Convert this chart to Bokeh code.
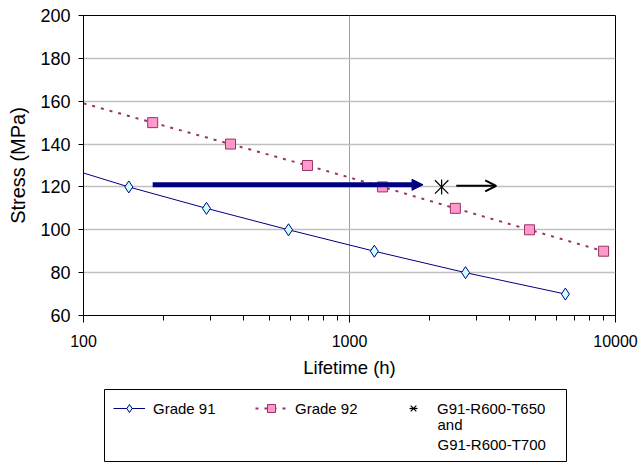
import math
from bokeh.plotting import figure
from bokeh.layouts import column
from bokeh.models import (Arrow, NormalHead, OpenHead, Legend, LegendItem, FixedTicker,
                          NumeralTickFormatter, Range1d, Label)
from bokeh.embed import file_html
from bokeh.resources import INLINE

# ---- data ----
g91_life = [148, 290, 590, 1240, 2730, 6480]
g91_stress = [120, 110, 100, 90, 80, 70]
g91_line_start = [100, 126.5]

g92_life = [182, 357, 695, 1330, 2500, 4750, 9020]
g92_stress = [150, 140, 130, 120, 110, 100, 90]
g92_line_start = [100, 159]

test_life = [2220]
test_stress = [120]

navy_arrow = dict(x0=182, y0=121, x1=1890, y1=121)
black_arrow = dict(x0=2520, y0=120.5, x1=3560, y1=120.5)

x_ticks = [100, 1000, 10000]
x_minor = [200, 300, 400, 500, 600, 700, 800, 900,
           2000, 3000, 4000, 5000, 6000, 7000, 8000, 9000]
y_ticks = [60, 80, 100, 120, 140, 160, 180, 200]

legend_labels = ["Grade 91", "Grade 92", "G91-R600-T650"]
legend_extra = "and\nG91-R600-T700"

FONT = "Liberation Sans"
NAVY = "#000080"
PLUM = "#993366"

p = figure(width=641, height=380, x_axis_type="log",
           x_range=Range1d(100, 10000), y_range=Range1d(60, 200),
           output_backend="svg", toolbar_location=None,
           min_border_left=83, min_border_right=26, min_border_top=15,
           min_border_bottom=65)
p.background_fill_color = "white"
p.border_fill_color = "white"
p.outline_line_color = "black"
p.outline_line_width = 1

# axes
p.xaxis.ticker = FixedTicker(ticks=x_ticks, minor_ticks=x_minor)
p.xaxis.formatter = NumeralTickFormatter(format="0")
p.yaxis.ticker = FixedTicker(ticks=y_ticks)
for ax in (p.xaxis, p.yaxis):
    ax.axis_line_color = "black"
    ax.major_tick_line_color = "black"
    ax.minor_tick_line_color = "black"
    ax.major_label_text_font = FONT
    ax.major_label_text_color = "black"
    ax.axis_label_text_font = FONT
    ax.axis_label_text_font_style = "normal"
    ax.axis_label_text_color = "black"
    ax.major_tick_in = 0
    ax.minor_tick_in = 0
p.xaxis.major_label_text_font_size = "16px"
p.yaxis.major_label_text_font_size = "18px"
p.xaxis.axis_label_text_font_size = "18.5px"
p.yaxis.axis_label_text_font_size = "20px"
p.xaxis.major_tick_out = 7
p.xaxis.minor_tick_out = 5
p.yaxis.major_tick_out = 5
p.yaxis.minor_tick_line_color = None
p.xaxis.axis_label = "Lifetime (h)"
p.yaxis.axis_label = "Stress (MPa)"
p.xaxis.major_label_standoff = 12
p.xaxis.axis_label_standoff = 7
p.yaxis.major_label_standoff = 8
p.yaxis.axis_label_standoff = 8

p.xgrid.grid_line_color = "#a0a0a0"
p.ygrid.grid_line_color = "#c0c0c0"
p.ygrid.grid_line_width = 1.5
p.xgrid.minor_grid_line_color = None

# series styles
G91_LINE = dict(line_color=NAVY, line_width=1)
G91_MARK = dict(marker="diamond", size=12, fill_color="#ccffff", line_color=NAVY, line_width=1)
G92_LINE = dict(line_color=PLUM, line_width=2, line_dash="3 6")
G92_MARK = dict(marker="square", size=10, fill_color="#ff99cc", line_color=PLUM, line_width=1)
STAR_X = dict(marker="x", size=19, line_color="black", line_width=1.2)
STAR_V = dict(marker="dash", size=15, angle=math.pi / 2, line_color="black", line_width=1.2)

g91_x = [g91_line_start[0]] + g91_life
g91_y = [g91_line_start[1]] + g91_stress
g92_x = [g92_line_start[0]] + g92_life
g92_y = [g92_line_start[1]] + g92_stress

p.line(g91_x, g91_y, **G91_LINE)
p.scatter(g91_life, g91_stress, **G91_MARK)
p.line(g92_x, g92_y, **G92_LINE)
p.scatter(g92_life, g92_stress, **G92_MARK)

p.add_layout(Arrow(end=NormalHead(size=11, fill_color=NAVY, line_color=NAVY),
                   x_start=navy_arrow["x0"], y_start=navy_arrow["y0"],
                   x_end=navy_arrow["x1"], y_end=navy_arrow["y1"],
                   line_color=NAVY, line_width=5))
p.add_layout(Arrow(end=OpenHead(size=11, line_color="black", line_width=2),
                   x_start=black_arrow["x0"], y_start=black_arrow["y0"],
                   x_end=black_arrow["x1"], y_end=black_arrow["y1"],
                   line_color="black", line_width=2))
p.scatter(test_life, test_stress, **STAR_X)
p.scatter(test_life, test_stress, **STAR_V)

# ---- legend box (separate strip below the chart) ----
lp = figure(width=641, height=82, x_axis_type=None, y_axis_type=None,
            x_range=Range1d(0, 1), y_range=Range1d(0, 1),
            output_backend="svg", toolbar_location=None,
            min_border_left=104, min_border_right=75, min_border_top=9,
            min_border_bottom=0)
lp.outline_line_color = "black"
lp.outline_line_width = 1
lp.background_fill_color = "white"
lp.border_fill_color = "white"
lp.grid.visible = False

for f in (p, lp):
    try:
        f.frame_align = False
    except Exception:
        pass

# legend glyph renderers: same series, lying outside this strip's ranges (not visible)
lg1 = lp.line(g91_x, g91_y, **G91_LINE)
lm1 = lp.scatter(g91_life, g91_stress, **G91_MARK)
lg2 = lp.line(g92_x, g92_y, **G92_LINE)
lm2 = lp.scatter(g92_life, g92_stress, **G92_MARK)
lm3 = lp.scatter(test_life, test_stress, **STAR_X)
lm4 = lp.scatter(test_life, test_stress, **STAR_V)

legend = Legend(items=[
    LegendItem(label=legend_labels[0], renderers=[lg1, lm1]),
    LegendItem(label=legend_labels[1], renderers=[lg2, lm2]),
    LegendItem(label=legend_labels[2], renderers=[lm3, lm4]),
], orientation="horizontal", location=(9, 44),
    glyph_width=32, glyph_height=20, label_standoff=8, spacing=0, label_width=102,
    padding=0, border_line_color=None, background_fill_alpha=0,
    label_text_font=FONT, label_text_font_size="15px", label_text_color="black")
lp.add_layout(legend)
lp.add_layout(Label(x=333, y=47, x_units="screen", y_units="screen",
                    text=legend_extra, text_baseline="top", text_font=FONT,
                    text_font_size="15px", text_color="black", text_line_height=1.2))

open("out.html", "w").write(file_html(column(p, lp, spacing=0), INLINE))
